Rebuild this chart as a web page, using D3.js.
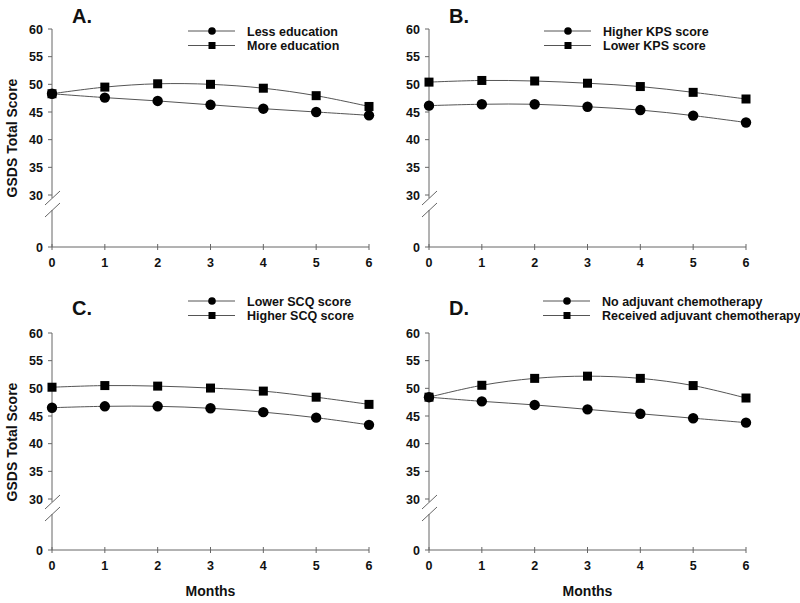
<!DOCTYPE html>
<html><head><meta charset="utf-8">
<script src="https://cdn.jsdelivr.net/npm/d3@7"></script>
<style>body{margin:0;background:#fff}svg{display:block;font-family:"Liberation Sans",Arial,sans-serif}</style>
</head><body><svg id="c" width="800" height="603"></svg>
<script>
const months = [0,1,2,3,4,5,6];
const yTicks = [0,30,35,40,45,50,55,60];
const panelLabels = ["A.","B.","C.","D."];
const legendCircle = ["Less education","Higher KPS score","Lower SCQ score","No adjuvant chemotherapy"];
const legendSquare = ["More education","Lower KPS score","Higher SCQ score","Received adjuvant chemotherapy"];
const circleA = [48.3,47.6,47.0,46.3,45.6,45.0,44.4];
const squareA = [48.3,49.5,50.1,50.0,49.3,47.95,46.0];
const circleB = [46.15,46.4,46.4,45.95,45.35,44.35,43.1];
const squareB = [50.4,50.7,50.6,50.2,49.6,48.55,47.35];
const circleC = [46.5,46.75,46.75,46.4,45.7,44.7,43.4];
const squareC = [50.2,50.5,50.4,50.05,49.5,48.4,47.1];
const circleD = [48.4,47.65,47.0,46.2,45.4,44.6,43.8];
const squareD = [48.4,50.55,51.8,52.2,51.8,50.5,48.25];
const circles = [circleA,circleB,circleC,circleD];
const squares = [squareA,squareB,squareC,squareD];

const svg = d3.select("#c");
const layouts = [
  {x0:52, x1:369, top:29, mid:195, bot:247, labY:23, legX:188, legY:31},
  {x0:429, x1:746, top:29, mid:195, bot:247, labY:23, legX:544, legY:31},
  {x0:52, x1:369, top:333, mid:499, bot:550, labY:315, legX:188, legY:301},
  {x0:429, x1:746, top:333, mid:499, bot:550, labY:315, legX:543, legY:301}
];
const axisCol = "#666", lineCol = "#555";

layouts.forEach((L,i)=>{
  const g = svg.append("g");
  const x = d3.scaleLinear().domain([0,6]).range([L.x0,L.x1]);
  const y = d3.scaleLinear().domain([0,30,60]).range([L.bot,L.mid,L.top]);
  // y axis with break
  const brk1 = L.mid+3, brk2 = L.mid+15;
  g.append("line").attr("x1",L.x0).attr("x2",L.x0).attr("y1",y(60)).attr("y2",brk1).attr("stroke",axisCol);
  g.append("line").attr("x1",L.x0).attr("x2",L.x0).attr("y1",brk2).attr("y2",y(0)).attr("stroke",axisCol);
  [brk1,brk2].forEach(b=>{
    g.append("line").attr("x1",L.x0-7).attr("y1",b+7).attr("x2",L.x0+8).attr("y2",b-7).attr("stroke",axisCol);
  });
  yTicks.forEach(t=>{
    g.append("line").attr("x1",L.x0-4).attr("x2",L.x0).attr("y1",y(t)).attr("y2",y(t)).attr("stroke",axisCol);
    g.append("text").attr("x",L.x0-9).attr("y",y(t)).attr("dy","0.36em").attr("text-anchor","end")
      .attr("font-size",12.5).attr("font-weight","bold").attr("fill","#111").text(t);
  });
  // x axis
  g.append("line").attr("x1",x(0)).attr("x2",x(6)).attr("y1",y(0)).attr("y2",y(0)).attr("stroke",axisCol);
  months.forEach(m=>{
    g.append("line").attr("x1",x(m)).attr("x2",x(m)).attr("y1",y(0)-3).attr("y2",y(0)+3).attr("stroke",axisCol);
    g.append("text").attr("x",x(m)).attr("y",y(0)+20).attr("text-anchor","middle")
      .attr("font-size",12.5).attr("font-weight","bold").attr("fill","#111").text(m);
  });
  // titles
  g.append("text").attr("x",L.x0+20).attr("y",L.labY).attr("font-size",20).attr("font-weight","bold").attr("fill","#111").text(panelLabels[i]);
  if(i%2===0){
    const cy=y(30)-57;
    g.append("text").attr("transform",`translate(17,${cy}) rotate(-90)`).attr("text-anchor","middle")
      .attr("font-size",14).attr("font-weight","bold").attr("fill","#111").text("GSDS Total Score");
  }
  if(i>=2){
    g.append("text").attr("x",(x(0)+x(6))/2).attr("y",y(0)+46).attr("text-anchor","middle")
      .attr("font-size",14).attr("font-weight","bold").attr("fill","#111").text("Months");
  }
  // series
  const line = d3.line().x((d,j)=>x(months[j])).y(d=>y(d)).curve(d3.curveCatmullRom);
  [circles[i],squares[i]].forEach((s,k)=>{
    g.append("path").attr("d",line(s)).attr("fill","none").attr("stroke",lineCol).attr("stroke-width",1);
  });
  circles[i].forEach((v,j)=>g.append("circle").attr("cx",x(months[j])).attr("cy",y(v)).attr("r",5.2).attr("fill","#000"));
  squares[i].forEach((v,j)=>g.append("rect").attr("x",x(months[j])-4.5).attr("y",y(v)-4.5).attr("width",9).attr("height",9).attr("fill","#000"));
  // legend
  const lx = L.legX, ly = L.legY;
  [legendCircle[i],legendSquare[i]].forEach((t,k)=>{
    const yy = ly+k*14.5;
    g.append("line").attr("x1",lx).attr("x2",lx+47).attr("y1",yy).attr("y2",yy).attr("stroke",lineCol);
    if(k===0) g.append("circle").attr("cx",lx+24).attr("cy",yy).attr("r",3.8).attr("fill","#000");
    else g.append("rect").attr("x",lx+20.5).attr("y",yy-3.5).attr("width",7).attr("height",7).attr("fill","#000");
    g.append("text").attr("x",lx+59).attr("y",yy).attr("dy","0.36em").attr("font-size",12.5).attr("font-weight","bold").attr("fill","#111").text(t);
  });
});
</script></body></html>
